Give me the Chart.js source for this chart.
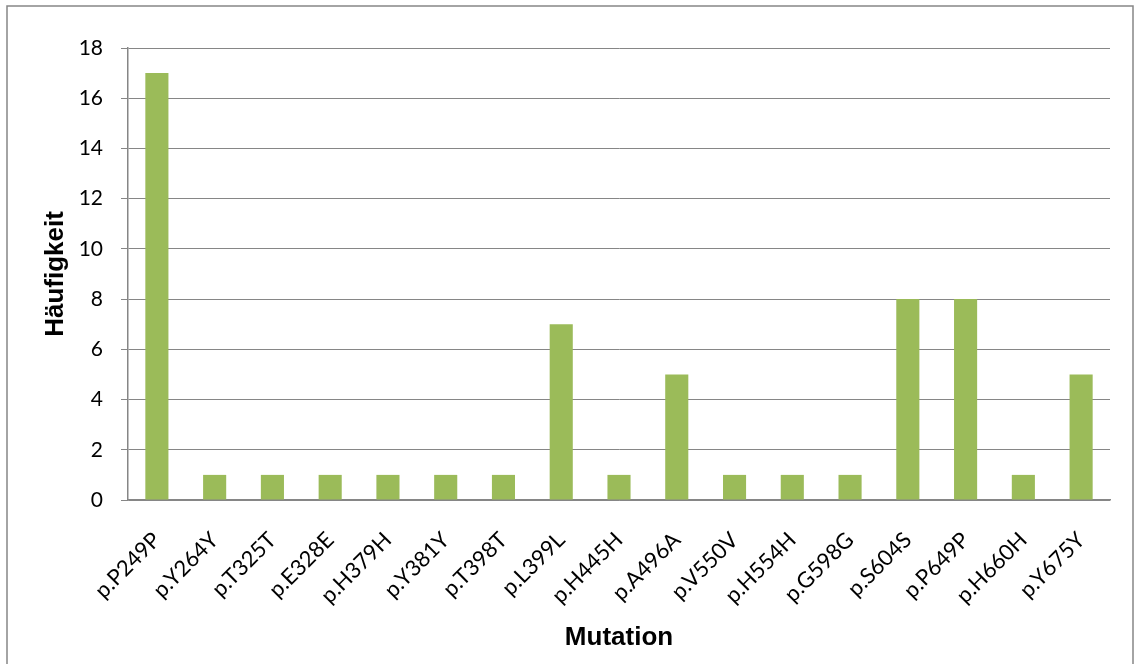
<!DOCTYPE html>
<html><head><meta charset="utf-8">
<script src="https://cdn.jsdelivr.net/npm/chart.js@4/dist/chart.umd.min.js"></script>
<style>html,body{margin:0;padding:0;background:#fff;}#wrap{width:1134px;height:664px;position:relative;}</style>
</head><body><div id="wrap"><canvas id="c" width="1134" height="664"></canvas></div>
<script>
const categories = ["p.P249P","p.Y264Y","p.T325T","p.E328E","p.H379H","p.Y381Y","p.T398T","p.L399L","p.H445H","p.A496A","p.V550V","p.H554H","p.G598G","p.S604S","p.P649P","p.H660H","p.Y675Y"];
const counts = [17,1,1,1,1,1,1,7,1,5,1,1,1,8,8,1,5];
const yTicks = [0,2,4,6,8,10,12,14,16,18];
const xTitle = "Mutation";
const yTitle = "Häufigkeit";

const frame = {id:'frame', afterDraw(ch){const c=ch.ctx;c.save();c.strokeStyle='#868686';c.lineWidth=1.5;c.strokeRect(7,6,1126,700);c.restore();}};
const FONT = "Lato, 'Open Sans', sans-serif";
new Chart(document.getElementById('c'), {
  type:'bar',
  data:{labels:categories, datasets:[{data:counts, backgroundColor:'#9BBB59', borderWidth:0, barPercentage:0.4, categoryPercentage:1}]},
  options:{
    responsive:false, animation:false,
    layout:{padding:{left:40,top:48,right:24,bottom:0}},
    plugins:{legend:{display:false}, tooltip:{enabled:false}},
    scales:{
      x:{
        grid:{display:false, drawTicks:false},
        border:{color:'#868686', width:1.5},
        ticks:{color:'#000', font:{family:FONT,size:22}, maxRotation:45, minRotation:45, padding:27, autoSkip:false},
        title:{display:true, text:xTitle, color:'#000', font:{family:"'Liberation Sans', Arial, sans-serif",size:26,weight:'bold'}, padding:{top:0,bottom:11}},
        afterFit(s){s.height=164;}
      },
      y:{
        min:0,max:18,
        afterBuildTicks(s){s.ticks=yTicks.map(v=>({value:v}));},
        grid:{color:'#868686', lineWidth:1, tickLength:7, tickColor:'#868686'},
        border:{color:'#868686', width:1.5},
        ticks:{color:'#000', font:{family:FONT,size:21}, padding:18},
        title:{display:true, text:yTitle, color:'#000', font:{family:"'Liberation Sans', Arial, sans-serif",size:26,weight:'bold'}, padding:{top:0,bottom:10}},
        afterFit(s){s.width=88;}
      }
    }
  },
  plugins:[frame]
});
</script></body></html>
